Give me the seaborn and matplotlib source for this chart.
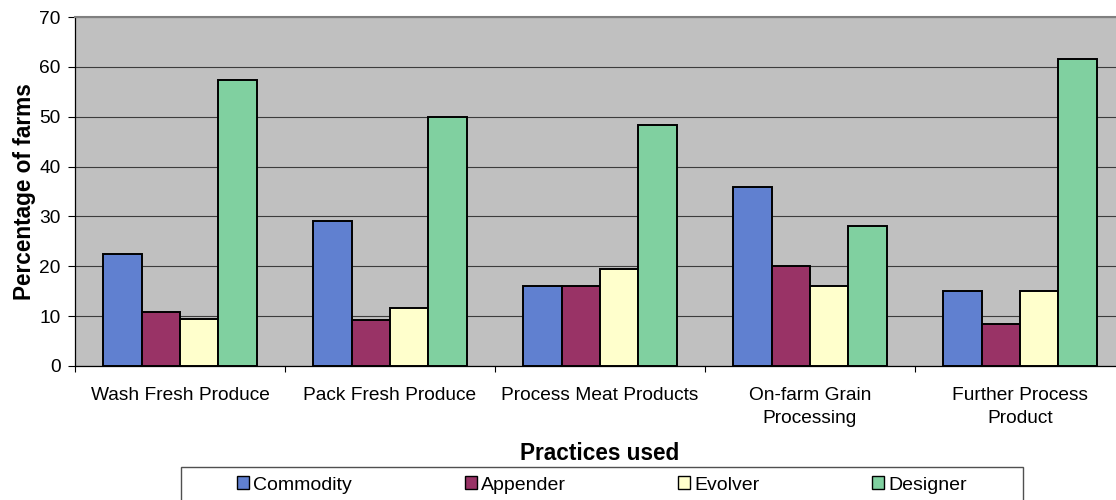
import matplotlib
matplotlib.use("Agg")
import matplotlib.pyplot as plt
from matplotlib.patches import Patch, Rectangle
import pandas as pd
import seaborn as sns

# Practices and farm types
practices = [
    "Wash Fresh Produce",
    "Pack Fresh Produce",
    "Process Meat Products",
    "On-farm Grain\nProcessing",
    "Further Process\nProduct",
]
farm_types = ["Commodity", "Appender", "Evolver", "Designer"]

# Percentage of farms using each practice, by farm type
commodity = [22.4, 29.1, 16.1, 36.0, 15.0]
appender = [10.9, 9.3, 16.1, 20.0, 8.5]
evolver = [9.5, 11.7, 19.4, 16.0, 15.0]
designer = [57.3, 50.0, 48.3, 28.0, 61.5]

colors = ["#6080D0", "#993366", "#FFFFCC", "#80D0A0"]

series = {"Commodity": commodity, "Appender": appender,
          "Evolver": evolver, "Designer": designer}
rows = []
for ftype in farm_types:
    for p, v in zip(practices, series[ftype]):
        rows.append({"practice": p, "type": ftype, "pct": v})
df = pd.DataFrame(rows)

plt.rcParams["font.family"] = ["Liberation Sans", "DejaVu Sans"]

W, H = 1116, 500
fig = plt.figure(figsize=(W / 100, H / 100), dpi=100)
ax = fig.add_axes([75 / W, 1 - 366 / H, 1050 / W, 349 / H])
ax.set_facecolor("#C0C0C0")

sns.barplot(data=df, x="practice", y="pct", hue="type",
            order=practices, hue_order=farm_types, palette=colors,
            saturation=1, width=0.731, edgecolor="black", linewidth=1.4,
            errorbar=None, legend=False, ax=ax, zorder=3)

ax.set_xlim(-0.5, 4.5)
ax.set_ylim(0, 70)
ax.set_yticks(range(0, 71, 10))
ax.yaxis.grid(True, color="#3c3c3c", linewidth=0.8, zorder=0)
ax.set_axisbelow(True)

# Spines
for s in ("left", "bottom"):
    ax.spines[s].set_color("black")
    ax.spines[s].set_linewidth(0.9)
for s in ("top", "right"):
    ax.spines[s].set_color("#808080")
    ax.spines[s].set_linewidth(1.5)

# Ticks: category labels centred, tick marks on category boundaries
ax.tick_params(axis="y", direction="out", length=5, width=0.8,
               pad=5.5, labelsize=13.8, colors="black")
ax.tick_params(axis="x", which="major", length=0, pad=15, labelsize=13.8)
ax.set_xticks([i - 0.5 for i in range(6)], minor=True)
ax.tick_params(axis="x", which="minor", direction="out", length=4.3,
               width=0.8, color="black")
ax.set_xticklabels(practices, linespacing=1.45)

ax.set_ylabel("Percentage of farms", fontsize=16.3, fontweight="bold")
ax.yaxis.set_label_coords(-0.037, 0.5)
ax.set_xlabel("Practices used", fontsize=16.3, fontweight="bold",
              va="center")
ax.xaxis.set_label_coords(0.5, (366 - 453) / 349)

# Legend in a framed box below the axis title
handles = [Patch(facecolor=c, edgecolor="black", linewidth=1.0, label=t)
           for c, t in zip(colors, farm_types)]
fig.legend(handles=handles, loc="center", ncol=4, mode="expand",
           bbox_to_anchor=(237 / W, 1 - 485 / H, (967 - 237) / W, 0),
           bbox_transform=fig.transFigure, frameon=False, fontsize=14,
           handlelength=0.62, handleheight=0.62, handletextpad=0.2,
           borderpad=0, borderaxespad=0)
fig.add_artist(Rectangle((181 / W, -0.1), (1023 - 181) / W,
                         (1 - 467 / H) + 0.1, transform=fig.transFigure,
                         fill=False, edgecolor="#505050", linewidth=1.0))

fig.savefig("out.png", dpi=100)
